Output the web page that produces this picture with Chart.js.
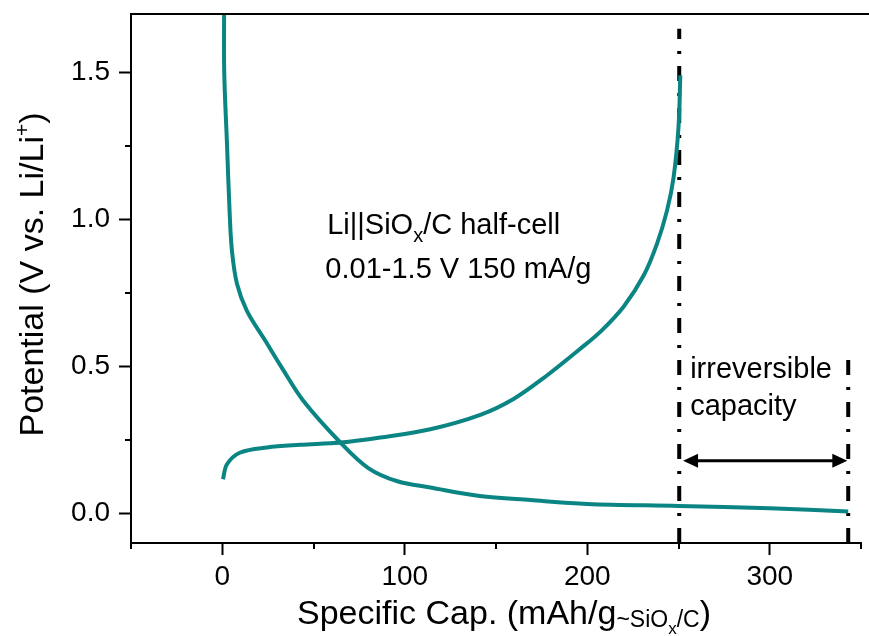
<!DOCTYPE html>
<html>
<head>
<meta charset="utf-8">
<script src="https://cdn.jsdelivr.net/npm/chart.js@4.4.1/dist/chart.umd.min.js"></script>
<style>
  html, body { margin: 0; padding: 0; background: #fff; }
  canvas { display: block; }
</style>
</head>
<body>
<canvas id="capChart" width="869" height="636"></canvas>
<script>
// discharge (lithiation) curve
var dischargeCap = [1.0, 1.1, 2.6, 4.0, 5.3, 8.1, 13.5, 23.6, 32.7, 44.4, 64.7, 80, 96, 114, 141, 169, 200, 250, 300, 343];
var dischargeV   = [1.70, 1.497, 1.258, 1.031, 0.895, 0.781, 0.690, 0.588, 0.496, 0.384, 0.242, 0.155, 0.110, 0.089, 0.060, 0.046, 0.033, 0.026, 0.018, 0.007];

// charge (delithiation) curve
var chargeCap = [0.4, 2.6, 9.9, 24.5, 42.7, 64.7, 86.6, 114, 141.4, 159.6, 177.9, 196, 207.7, 220, 230.9, 238.2, 243.7, 247.3, 250, 251];
var chargeV   = [0.117, 0.168, 0.208, 0.225, 0.234, 0.242, 0.259, 0.287, 0.336, 0.390, 0.470, 0.560, 0.622, 0.705, 0.810, 0.918, 1.031, 1.144, 1.315, 1.491];

// marker lines: charge capacity end / discharge capacity end
var markerCap = [250.4, 343];
var markerTop = [1.65, 0.53];

var xTicks = [0, 100, 200, 300];
var xMinor = [-50, 50, 150, 250, 350];
var yTicks = [0.0, 0.5, 1.0, 1.5];
var yMinor = [0.25, 0.75, 1.25];

var teal = '#0a8583';
var FONT = "'Liberation Sans', Arial, sans-serif";

function toPoints(xs, ys){
    return xs.map(function(v, i){ return {x: v, y: ys[i]}; });
}

// draw a run of text pieces with different sizes / baseline shifts
function textRun(ctx, parts, x, y, measureOnly){
    var w = 0;
    parts.forEach(function(p){
        ctx.font = p.size + 'px ' + FONT;
        if(!measureOnly) ctx.fillText(p.t, x + w, y + (p.dy || 0));
        w += ctx.measureText(p.t).width;
    });
    return w;
}

var deco = {
    id: 'deco',
    afterDraw: function(chart){
        var ctx = chart.ctx, a = chart.chartArea;
        var xs = chart.scales.x, ys = chart.scales.y;
        ctx.save();
        ctx.strokeStyle = '#000';
        ctx.fillStyle = '#000';

        // top frame line
        ctx.lineWidth = 2;
        ctx.beginPath();
        ctx.moveTo(a.left - 1, a.top);
        ctx.lineTo(chart.width, a.top);
        ctx.stroke();

        // minor ticks
        ctx.beginPath();
        xMinor.forEach(function(v){
            var px = Math.round(xs.getPixelForValue(v));
            ctx.moveTo(px, a.bottom);
            ctx.lineTo(px, a.bottom + 6);
        });
        yMinor.forEach(function(v){
            var py = Math.round(ys.getPixelForValue(v));
            ctx.moveTo(a.left, py);
            ctx.lineTo(a.left - 6, py);
        });
        ctx.stroke();

        // double arrow
        var ay = ys.getPixelForValue(0.18);
        var ax1 = xs.getPixelForValue(252.5), ax2 = xs.getPixelForValue(342.5);
        ctx.lineWidth = 3;
        ctx.beginPath();
        ctx.moveTo(ax1 + 10, ay);
        ctx.lineTo(ax2 - 10, ay);
        ctx.stroke();
        ctx.beginPath();
        ctx.moveTo(ax1, ay); ctx.lineTo(ax1 + 15, ay - 7); ctx.lineTo(ax1 + 15, ay + 7); ctx.closePath();
        ctx.moveTo(ax2, ay); ctx.lineTo(ax2 - 15, ay - 7); ctx.lineTo(ax2 - 15, ay + 7); ctx.closePath();
        ctx.fill();

        ctx.textBaseline = 'alphabetic';
        ctx.textAlign = 'left';

        // annotations
        textRun(ctx, [{t: 'Li||SiO', size: 29}, {t: 'x', size: 20, dy: 8}, {t: '/C half-cell', size: 29}],
            xs.getPixelForValue(57.5), ys.getPixelForValue(0.953));
        textRun(ctx, [{t: '0.01-1.5 V 150 mA/g', size: 29}], xs.getPixelForValue(56.5), ys.getPixelForValue(0.803));
        textRun(ctx, [{t: 'irreversible', size: 29}], xs.getPixelForValue(256.4), ys.getPixelForValue(0.462));
        textRun(ctx, [{t: 'capacity', size: 29}], xs.getPixelForValue(256.4), ys.getPixelForValue(0.336));

        // x axis title
        var xt = [{t: 'Specific Cap. (mAh/g', size: 34}, {t: '~SiO', size: 23, dy: 3}, {t: 'x', size: 17, dy: 10}, {t: '/C', size: 23, dy: 3}, {t: ')', size: 34}];
        var xw = textRun(ctx, xt, 0, 0, true);
        textRun(ctx, xt, 504 - xw / 2, 624);

        // y axis title
        var yt = [{t: 'Potential (V vs. Li/Li', size: 34}, {t: '+', size: 21, dy: -14}, {t: ')', size: 34}];
        var yw = textRun(ctx, yt, 0, 0, true);
        ctx.translate(43, (a.top + a.bottom) / 2 - 4);
        ctx.rotate(-Math.PI / 2);
        textRun(ctx, yt, -yw / 2, 0);
        ctx.restore();
    }
};

var markerSet = markerCap.map(function(c, i){
    return {
        data: [{x: c, y: -0.1}, {x: c, y: markerTop[i]}],
        borderColor: '#000',
        borderWidth: 4,
        borderDash: [15, 12, 3, 12],
        pointRadius: 0,
        showLine: true
    };
});

var ctxC = document.getElementById('capChart').getContext('2d');
var capChart = new Chart(ctxC, {
    type: 'scatter',
    data: {
        datasets: [
            {
                data: toPoints(dischargeCap, dischargeV),
                borderColor: teal,
                borderWidth: 4,
                pointRadius: 0,
                showLine: true,
                tension: 0.35
            },
            {
                data: toPoints(chargeCap, chargeV),
                borderColor: teal,
                borderWidth: 4,
                pointRadius: 0,
                showLine: true,
                tension: 0.35
            }
        ].concat(markerSet)
    },
    options: {
        responsive: false,
        animation: false,
        layout: { padding: { top: 14, right: 8, left: 0, bottom: 0 } },
        plugins: { legend: { display: false }, tooltip: { enabled: false } },
        scales: {
            x: {
                type: 'linear',
                min: -50,
                max: 350,
                afterBuildTicks: function(s){ s.ticks = xTicks.map(function(v){ return {value: v}; }); },
                afterFit: function(s){ s.height = 93; s.paddingLeft = 0; s.paddingRight = 0; },
                grid: { drawOnChartArea: false, tickLength: 12, tickWidth: 2, tickColor: '#000' },
                border: { color: '#000', width: 2 },
                ticks: { color: '#000', font: { family: FONT, size: 28 }, padding: 5, maxRotation: 0 }
            },
            y: {
                type: 'linear',
                min: -0.1,
                max: 1.7,
                afterBuildTicks: function(s){ s.ticks = yTicks.map(function(v){ return {value: v}; }); },
                afterFit: function(s){ s.width = 131; s.paddingTop = 0; s.paddingBottom = 0; },
                grid: { drawOnChartArea: false, tickLength: 12, tickWidth: 2, tickColor: '#000' },
                border: { color: '#000', width: 2 },
                ticks: { color: '#000', font: { family: FONT, size: 28 }, padding: 9,
                    callback: function(v){ return v.toFixed(1); } }
            }
        }
    },
    plugins: [deco]
});
</script>
</body>
</html>
